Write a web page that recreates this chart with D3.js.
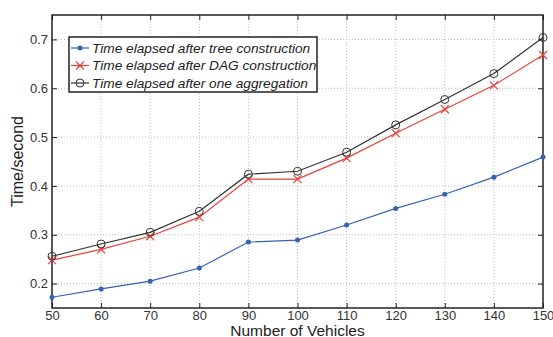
<!DOCTYPE html>
<html lang="en">
<head>
<meta charset="UTF-8">
<title>Time elapsed</title>
<script src="https://cdn.jsdelivr.net/npm/d3@7"></script>
<style>
  body { margin: 0; background: #fff; }
  text { font-family: "Liberation Sans", Arial, sans-serif; }
</style>
</head>
<body>
<script>
    // 横轴：车辆数
    const vehicles = [50, 60, 70, 80, 90, 100, 110, 120, 130, 140, 150];
    const treeTime = [0.172, 0.189, 0.205, 0.232, 0.285, 0.289, 0.320, 0.354, 0.383, 0.418, 0.459];
    const dagTime  = [0.248, 0.270, 0.297, 0.336, 0.414, 0.414, 0.457, 0.508, 0.557, 0.606, 0.668];
    const aggTime  = [0.256, 0.281, 0.305, 0.348, 0.424, 0.430, 0.469, 0.525, 0.577, 0.630, 0.704];
    const yTicks = [0.2, 0.3, 0.4, 0.5, 0.6, 0.7];
    const seriesNames = [
        "Time elapsed after tree construction",
        "Time elapsed after DAG construction",
        "Time elapsed after one aggregation"
    ];

    var w = 553, h = 337;
    var mLeft = 52, mRight = 543, mTop = 15, mBottom = 308;

    var xScale = d3.scaleLinear().domain([50, 150]).range([mLeft, mRight]);
    var yScale = d3.scaleLinear().domain([0.15, 0.75]).range([mBottom, mTop]);

    var svg = d3.select("body").append("svg")
        .attr("width", w).attr("height", h);

    // 网格
    svg.append("g").selectAll("line").data(vehicles.slice(1, -1)).enter()
        .append("line")
        .attr("x1", d => xScale(d)).attr("x2", d => xScale(d))
        .attr("y1", mTop).attr("y2", mBottom)
        .attr("stroke", "#bbb").attr("stroke-dasharray", "1,2");
    svg.append("g").selectAll("line").data(yTicks).enter()
        .append("line")
        .attr("x1", mLeft).attr("x2", mRight)
        .attr("y1", d => yScale(d)).attr("y2", d => yScale(d))
        .attr("stroke", "#bbb").attr("stroke-dasharray", "1,2");

    // 坐标轴（刻度朝内）
    var xAxis = d3.axisBottom(xScale).tickValues(vehicles).tickSize(-5).tickPadding(3).tickFormat(d3.format("d"));
    var yAxis = d3.axisLeft(yScale).tickValues(yTicks).tickSize(-5).tickPadding(4).tickFormat(d3.format(".1f"));
    svg.append("g").attr("transform", "translate(0," + mBottom + ")").call(xAxis);
    svg.append("g").attr("transform", "translate(" + mLeft + ",0)").call(yAxis);
    svg.append("g").attr("transform", "translate(0," + mTop + ")")
        .call(d3.axisTop(xScale).tickValues(vehicles).tickSize(-5).tickFormat(""));
    svg.append("g").attr("transform", "translate(" + mRight + ",0)")
        .call(d3.axisRight(yScale).tickValues(yTicks).tickSize(-5).tickFormat(""));
    svg.selectAll(".domain").remove();
    svg.selectAll(".tick line").attr("stroke", "#222");
    svg.selectAll(".tick text").attr("font-size", "13px").attr("fill", "#333")
        .attr("font-family", "Liberation Sans, Arial, sans-serif");

    svg.append("rect")
        .attr("x", mLeft).attr("y", mTop)
        .attr("width", mRight - mLeft).attr("height", mBottom - mTop)
        .attr("fill", "none").attr("stroke", "#222").attr("stroke-width", 1.5);

    // 数据线
    var series = [
        { values: treeTime, color: "#3761b4", mark: "dot" },
        { values: dagTime, color: "#e8413a", mark: "x" },
        { values: aggTime, color: "#333", mark: "circle" }
    ];
    var line = d3.line().x((d, i) => xScale(vehicles[i])).y(d => yScale(d));

    function drawMark(g, mark, color, x, y) {
        if (mark === "dot") {
            g.append("circle").attr("cx", x).attr("cy", y).attr("r", 2.5).attr("fill", color);
        } else if (mark === "x") {
            g.append("path").attr("d", "M" + (x - 4) + "," + (y - 4) + "L" + (x + 4) + "," + (y + 4) +
                "M" + (x - 4) + "," + (y + 4) + "L" + (x + 4) + "," + (y - 4))
                .attr("stroke", color).attr("stroke-width", 1.2);
        } else {
            g.append("circle").attr("cx", x).attr("cy", y).attr("r", 4)
                .attr("fill", "none").attr("stroke", color).attr("stroke-width", 1);
        }
    }

    series.forEach(function (s) {
        svg.append("path").datum(s.values).attr("d", line)
            .attr("fill", "none").attr("stroke", s.color).attr("stroke-width", 1.2);
        var g = svg.append("g");
        s.values.forEach(function (v, i) {
            drawMark(g, s.mark, s.color, xScale(vehicles[i]), yScale(v));
        });
    });

    // 图例
    var lg = svg.append("g");
    lg.append("rect").attr("x", 69).attr("y", 37).attr("width", 248).attr("height", 55)
        .attr("fill", "#fff").attr("stroke", "#222").attr("stroke-width", 1.5);
    series.forEach(function (s, i) {
        var y = 48 + i * 17.5;
        lg.append("line").attr("x1", 71).attr("x2", 89).attr("y1", y).attr("y2", y)
            .attr("stroke", s.color).attr("stroke-width", 1.2);
        drawMark(lg, s.mark, s.color, 80, y);
        lg.append("text").attr("x", 92).attr("y", y + 4.8)
            .attr("font-size", "13.7px").attr("font-style", "italic").attr("fill", "#222")
            .text(seriesNames[i]);
    });

    // 轴标题
    svg.append("text").attr("x", (mLeft + mRight) / 2).attr("y", 335.5)
        .attr("text-anchor", "middle").attr("font-size", "15.5px").attr("fill", "#222")
        .text("Number of Vehicles");
    svg.append("text").attr("transform", "translate(23," + ((mTop + mBottom) / 2) + ") rotate(-90)")
        .attr("text-anchor", "middle").attr("font-size", "16px").attr("fill", "#222")
        .text("Time/second");
</script>
</body>
</html>
